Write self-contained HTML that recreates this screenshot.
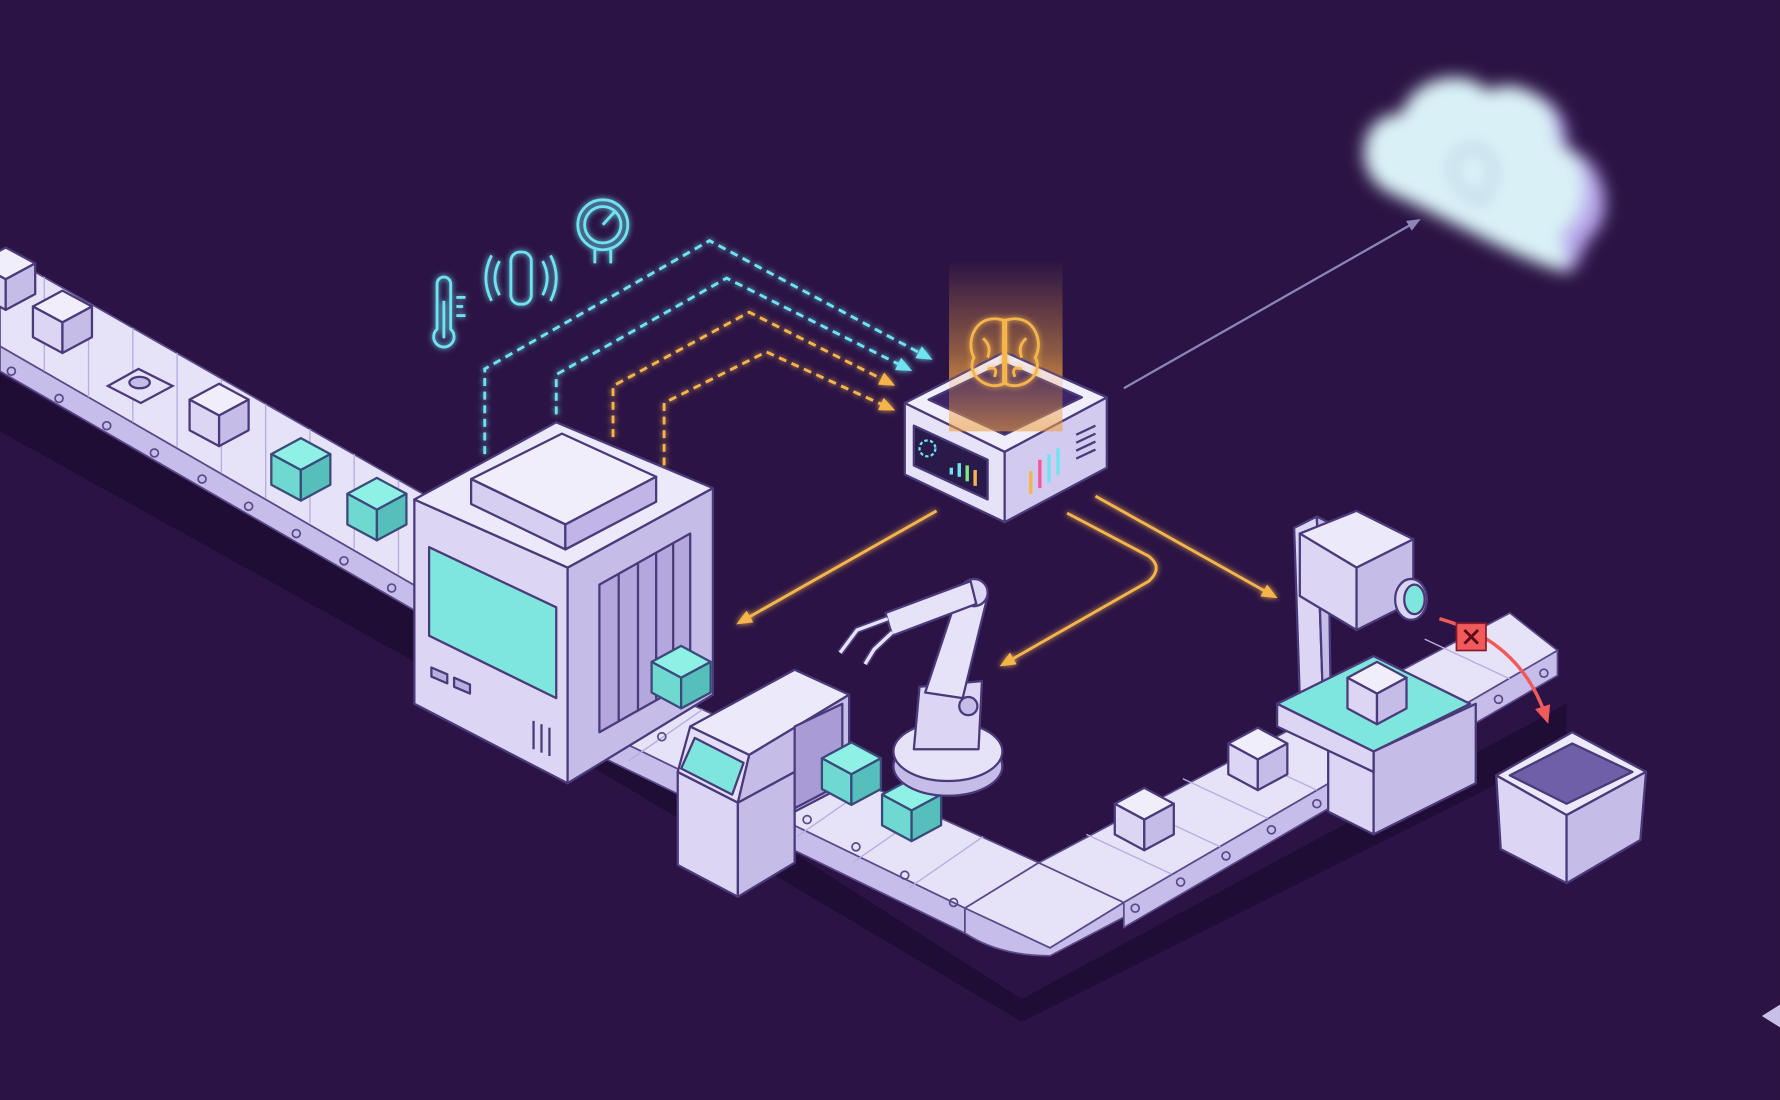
<!DOCTYPE html>
<html><head><meta charset="utf-8"><style>
html,body{margin:0;padding:0;background:#2b1445;width:1780px;height:1100px;overflow:hidden}
svg{display:block}
</style></head><body>
<svg width="1780" height="1100" viewBox="0 0 1568 969" xmlns="http://www.w3.org/2000/svg" xmlns:xlink="http://www.w3.org/1999/xlink">
<defs>
<filter id="blur" x="-20%" y="-20%" width="140%" height="140%"><feGaussianBlur stdDeviation="7"/></filter>
<filter id="glow"><feGaussianBlur stdDeviation="2.5" result="b"/><feMerge><feMergeNode in="b"/><feMergeNode in="SourceGraphic"/></feMerge></filter>
<linearGradient id="col" x1="0" y1="1" x2="0" y2="0"><stop offset="0" stop-color="#f0a040" stop-opacity=".75"/><stop offset="1" stop-color="#f0a040" stop-opacity="0"/></linearGradient>
<marker id="ao" markerUnits="userSpaceOnUse" markerWidth="14" markerHeight="12" refX="10" refY="6" orient="auto"><path d="M0,0 L14,6 L0,12 z" fill="#f6b54c"/></marker>
<marker id="ac" markerUnits="userSpaceOnUse" markerWidth="14" markerHeight="12" refX="10" refY="6" orient="auto"><path d="M0,0 L14,6 L0,12 z" fill="#6fe3f0"/></marker>
<marker id="ar" markerUnits="userSpaceOnUse" markerWidth="16" markerHeight="14" refX="10" refY="7" orient="auto"><path d="M0,0 L16,7 L0,14 z" fill="#f05a5a"/></marker>
<marker id="ag" markerUnits="userSpaceOnUse" markerWidth="12" markerHeight="10" refX="8" refY="5" orient="auto"><path d="M0,0 L12,5 L0,10 z" fill="#8a86b8"/></marker>
<g id="cl" stroke="#4a3a7a" stroke-width="2" stroke-linejoin="round">
<polygon points="-26,0 0,-14 26,0 0,14" fill="#f1eefc"/>
<polygon points="-26,0 0,14 0,41 -26,27" fill="#dcd6f4"/>
<polygon points="0,14 26,0 26,27 0,41" fill="#c6bce8"/>
</g>
<g id="ct" stroke="#3a4a7a" stroke-width="2" stroke-linejoin="round">
<polygon points="-26,0 0,-14 26,0 0,14" fill="#8ff0e6"/>
<polygon points="-26,0 0,14 0,41 -26,27" fill="#6fd8d0"/>
<polygon points="0,14 26,0 26,27 0,41" fill="#56bfbc"/>
</g>
</defs>
<rect width="1568" height="969" fill="#2b1445"/>
<path d="M0,330 L370,540 L900,880 L1380,620 L1380,660 L900,900 L360,580 L0,380 z" fill="#1f0d35"/>
<g stroke="#5a4a8a" stroke-width="1.5">
<polygon points="0,222 390,445 390,530 0,305" fill="#e6e2f7"/>
<polygon points="0,305 390,530 390,552 0,327" fill="#c7bdea"/>
<polygon points="520,580 915,760 850,800 520,640" fill="#e6e2f7"/>
<polygon points="520,640 850,800 850,822 520,662" fill="#c7bdea"/>
<polygon points="850,800 915,760 990,795 925,835" fill="#e6e2f7"/>
<path d="M850,822 Q880,842 925,842 L990,808 L990,795 L925,835 L850,800 Z" fill="#c7bdea"/>
<polygon points="915,760 1330,540 1372,573 990,795" fill="#e6e2f7"/>
<polygon points="990,795 1372,573 1372,595 990,817" fill="#c7bdea"/>
</g>
<g stroke="#b8aee0" stroke-width="1.2">
<line x1="39" y1="244" x2="39" y2="327"/><line x1="78" y1="267" x2="78" y2="350"/><line x1="117" y1="289" x2="117" y2="372"/><line x1="156" y1="311" x2="156" y2="394"/><line x1="195" y1="334" x2="195" y2="417"/><line x1="234" y1="356" x2="234" y2="439"/><line x1="273" y1="378" x2="273" y2="461"/><line x1="312" y1="400" x2="312" y2="483"/><line x1="351" y1="423" x2="351" y2="506"/>
<line x1="569" y1="602" x2="504" y2="647"/><line x1="619" y1="625" x2="554" y2="670"/><line x1="668" y1="647" x2="603" y2="692"/><line x1="718" y1="670" x2="653" y2="715"/><line x1="767" y1="692" x2="702" y2="737"/><line x1="816" y1="715" x2="751" y2="760"/><line x1="866" y1="737" x2="801" y2="782"/>
<line x1="1032" y1="770" x2="957" y2="735"/><line x1="1075" y1="746" x2="1000" y2="711"/><line x1="1117" y1="721" x2="1042" y2="686"/><line x1="1160" y1="696" x2="1085" y2="661"/><line x1="1202" y1="672" x2="1127" y2="637"/><line x1="1245" y1="647" x2="1170" y2="612"/><line x1="1287" y1="622" x2="1212" y2="587"/><line x1="1330" y1="598" x2="1255" y2="563"/>
</g>
<g fill="none" stroke="#5a4a8a" stroke-width="1.5">
<circle cx="10" cy="327" r="3.5"/><circle cx="52" cy="351" r="3.5"/><circle cx="94" cy="375" r="3.5"/><circle cx="136" cy="399" r="3.5"/><circle cx="178" cy="422" r="3.5"/><circle cx="219" cy="446" r="3.5"/><circle cx="261" cy="470" r="3.5"/><circle cx="303" cy="494" r="3.5"/><circle cx="345" cy="518" r="3.5"/>
<circle cx="540" cy="625" r="3.5"/><circle cx="583" cy="649" r="3.5"/><circle cx="626" cy="674" r="3.5"/><circle cx="669" cy="698" r="3.5"/><circle cx="711" cy="722" r="3.5"/><circle cx="754" cy="746" r="3.5"/><circle cx="797" cy="771" r="3.5"/><circle cx="840" cy="795" r="3.5"/>
<circle cx="1000" cy="800" r="3.5"/><circle cx="1040" cy="777" r="3.5"/><circle cx="1080" cy="754" r="3.5"/><circle cx="1120" cy="731" r="3.5"/><circle cx="1160" cy="708" r="3.5"/><circle cx="1200" cy="685" r="3.5"/><circle cx="1240" cy="662" r="3.5"/><circle cx="1280" cy="639" r="3.5"/><circle cx="1320" cy="616" r="3.5"/><circle cx="1360" cy="593" r="3.5"/>
</g>

<!-- cubes behind machine -->
<use xlink:href="#cl" x="5" y="232"/>
<use xlink:href="#cl" x="55" y="270"/>
<use xlink:href="#cl" x="193" y="352"/>
<use xlink:href="#ct" x="265" y="400"/>
<use xlink:href="#ct" x="332" y="435"/>
<g stroke="#4a3a7a" stroke-width="2">
<polygon points="95,340 122,325 152,340 124,355" fill="#e6e2f7"/>
<ellipse cx="123" cy="337" rx="9" ry="5" fill="#c6bce8"/>
</g>

<!-- main machine -->
<g stroke="#4a3a7a" stroke-width="2" stroke-linejoin="round">
<polygon points="365,440 500,500 500,690 365,620" fill="#dcd6f4"/>
<polygon points="500,500 628,430 628,612 500,690" fill="#c6bce8"/>
<polygon points="365,440 490,372 628,430 500,500" fill="#ece9fb"/>
<polygon points="415,422 495,382 578,420 498,462" fill="#f1eefc"/>
<polygon points="415,422 498,462 498,484 415,444" fill="#d6cff2"/>
<polygon points="498,462 578,420 578,442 498,484" fill="#c0b5e6"/>
<polygon points="378,482 490,535 490,615 378,560" fill="#7fe6de"/>
<polygon points="528,515 608,470 608,600 528,645" fill="#b3a7dd"/>
<line x1="545" y1="505" x2="545" y2="635"/><line x1="562" y1="496" x2="562" y2="625"/><line x1="578" y1="487" x2="578" y2="616"/><line x1="593" y1="479" x2="593" y2="608"/>
<polygon points="380,588 394,594 394,602 380,596" fill="#b8aee0"/>
<polygon points="400,597 414,603 414,611 400,605" fill="#b8aee0"/>
<line x1="470" y1="635" x2="470" y2="660"/><line x1="477" y1="638" x2="477" y2="663"/><line x1="484" y1="641" x2="484" y2="666"/>
</g>
<use xlink:href="#ct" x="600" y="583"/>

<!-- second small machine -->
<g stroke="#4a3a7a" stroke-width="2" stroke-linejoin="round">
<polygon points="597,680 650,707 650,790 597,762" fill="#dcd6f4"/>
<polygon points="650,707 700,680 700,760 650,790" fill="#c6bce8"/>
<polygon points="597,680 608,640 660,665 650,707" fill="#e3def8"/>
<polygon points="612,650 655,672 645,700 600,677" fill="#7fe6de"/>
<polygon points="608,640 700,590 748,612 660,665" fill="#ece9fb"/>
<polygon points="660,665 748,612 748,690 700,715 700,680 650,707" fill="#c6bce8"/>
<polygon points="700,640 742,620 742,690 700,712" fill="#a99cd6"/>
</g>
<use xlink:href="#ct" x="750" y="668"/>
<use xlink:href="#ct" x="803" y="700"/>

<!-- robot arm -->
<g stroke="#4a3a7a" stroke-width="2" stroke-linejoin="round">
<ellipse cx="835" cy="675" rx="48" ry="26" fill="#c6bce8"/>
<ellipse cx="835" cy="662" rx="48" ry="26" fill="#e6e2f7"/>
<path d="M805,660 L810,605 L865,600 L862,660 Z" fill="#dcd6f4"/>
<circle cx="853" cy="622" r="8" fill="#c6bce8"/>
<path d="M815,610 L845,520 L870,525 L848,615 Z" fill="#e6e2f7"/>
<circle cx="858" cy="522" r="12" fill="#dcd6f4"/>
<path d="M855,512 L780,540 L786,560 L860,532 Z" fill="#e6e2f7"/>
</g>
<path d="M782,545 L755,555 L740,575 M786,557 L770,572 L762,585" fill="none" stroke-width="6" stroke="#4a3a7a"/>
<path d="M782,545 L755,555 L740,575 M786,557 L770,572 L762,585" fill="none" stroke-width="3" stroke="#e6e2f7"/>

<use xlink:href="#cl" x="1008" y="708"/>
<use xlink:href="#cl" x="1108" y="655"/>

<!-- camera station -->
<g stroke="#4a3a7a" stroke-width="2" stroke-linejoin="round">
<polygon points="1140,465 1160,455 1165,605 1145,615" fill="#dcd6f4"/>
<polygon points="1160,455 1170,460 1172,600 1165,605" fill="#c6bce8"/>
<polygon points="1145,470 1195,450 1245,475 1195,500" fill="#ece9fb"/>
<polygon points="1145,470 1195,500 1195,555 1145,525" fill="#dcd6f4"/>
<polygon points="1195,500 1245,475 1245,530 1195,555" fill="#c6bce8"/>
<ellipse cx="1243" cy="528" rx="14" ry="18" fill="#dcd6f4"/>
<ellipse cx="1246" cy="528" rx="9" ry="13" fill="#7fe6de"/>
<polygon points="1125,620 1210,578 1295,620 1210,662" fill="#7fe6de"/>
<polygon points="1170,660 1210,680 1210,735 1170,715" fill="#dcd6f4"/>
<polygon points="1210,662 1300,620 1300,690 1210,735" fill="#c6bce8"/>
<polygon points="1125,620 1210,662 1210,680 1125,640" fill="#dcd6f4"/>
</g>
<use xlink:href="#cl" x="1213" y="597"/>

<!-- bin -->
<g stroke="#4a3a7a" stroke-width="2" stroke-linejoin="round">
<polygon points="1318,683 1385,645 1450,680 1380,718" fill="#ece9fb"/>
<polygon points="1330,683 1385,655 1438,680 1380,708" fill="#6e5fa8"/>
<polygon points="1318,683 1380,718 1380,778 1322,748" fill="#dcd6f4"/>
<polygon points="1380,718 1450,680 1445,740 1380,778" fill="#c6bce8"/>
</g>
<path d="M1268,545 Q1340,565 1362,632" fill="none" stroke="#f05a5a" stroke-width="3" marker-end="url(#ar)"/>
<rect x="1283" y="549" width="26" height="24" fill="#f05a5a" stroke="#8a1a2a" stroke-width="1.5"/>
<path d="M1290,555 L1302,567 M1302,555 L1290,567" stroke="#5a0a1a" stroke-width="2.5"/>

<!-- AI box -->
<rect x="836" y="230" width="100" height="120" fill="url(#col)"/>
<g stroke="#4a3a7a" stroke-width="2" stroke-linejoin="round">
<polygon points="797,355 885,398 885,460 797,418" fill="#e6e2f7"/>
<polygon points="885,398 975,350 975,412 885,460" fill="#d2caef"/>
<polygon points="797,355 885,310 975,350 885,398" fill="#f1eefc"/>
<polygon points="818,352 885,320 953,350 885,383" fill="#3c2466"/>
<polygon points="805,375 870,405 870,440 805,410" fill="#2a1a4a"/>
</g>
<rect x="836" y="310" width="100" height="70" fill="url(#col)" opacity=".8"/>
<g filter="url(#glow)" fill="none" stroke="#f6b54c" stroke-width="2.5">
<path d="M884,282 C860,275 850,300 858,315 C850,330 870,345 884,338 Z"/>
<path d="M886,282 C910,275 920,300 912,315 C920,330 900,345 886,338 Z"/>
<path d="M866,298 Q874,305 870,315 M904,298 Q896,305 900,315 M870,325 Q880,322 876,332 M900,325 Q890,322 894,332"/>
</g>
<g stroke-width="3">
<line x1="838" y1="412" x2="838" y2="418" stroke="#6fe3f0"/><line x1="845" y1="408" x2="845" y2="420" stroke="#6fe3f0"/><line x1="852" y1="410" x2="852" y2="424" stroke="#7ee87e"/><line x1="859" y1="414" x2="859" y2="428" stroke="#f6b54c"/>
<line x1="908" y1="415" x2="908" y2="435" stroke="#f6b54c"/><line x1="916" y1="405" x2="916" y2="430" stroke="#f05a9a"/><line x1="924" y1="400" x2="924" y2="425" stroke="#6fe3f0"/><line x1="932" y1="395" x2="932" y2="418" stroke="#6fe3f0"/>
</g>
<circle cx="817" cy="395" r="7" fill="none" stroke="#6fe3f0" stroke-width="2" stroke-dasharray="3 2"/>
<g stroke="#4a3a7a" stroke-width="2"><line x1="948" y1="383" x2="965" y2="375"/><line x1="948" y1="390" x2="965" y2="382"/><line x1="948" y1="397" x2="965" y2="389"/><line x1="948" y1="404" x2="965" y2="396"/></g>

<g fill="none" stroke-width="2.5" stroke-dasharray="7 5" filter="url(#glow)">
<path d="M427,400 L427,325 L625,212 L818,315" stroke="#6fe3f0" marker-end="url(#ac)"/>
<path d="M490,365 L490,330 L640,245 L800,325" stroke="#6fe3f0" marker-end="url(#ac)"/>
<path d="M540,385 L540,340 L660,275 L785,338" stroke="#f6b54c" marker-end="url(#ao)"/>
<path d="M585,410 L585,355 L675,310 L785,360" stroke="#f6b54c" marker-end="url(#ao)"/>
</g>
<g fill="none" stroke="#f6b54c" stroke-width="2.5" filter="url(#glow)">
<path d="M825,450 L652,548" marker-end="url(#ao)"/>
<path d="M940,452 L1012,490 Q1025,500 1012,512 L884,585" marker-end="url(#ao)"/>
<path d="M965,437 L1122,525" marker-end="url(#ao)"/>
</g>
<path d="M990,342 L1248,195" stroke="#8a86b8" stroke-width="2" fill="none" marker-end="url(#ag)"/>

<g fill="none" stroke="#6fe3f0" stroke-width="2.5" filter="url(#glow)">
<path d="M385,250 L385,290 A9,9 0 1 0 397,290 L397,250 A6,6 0 0 0 385,250 Z"/>
<line x1="391" y1="265" x2="391" y2="298"/>
<line x1="402" y1="262" x2="410" y2="262"/><line x1="402" y1="270" x2="408" y2="270"/><line x1="402" y1="278" x2="410" y2="278"/>
<rect x="450" y="222" width="18" height="46" rx="8"/>
<path d="M440,230 Q432,245 440,260 M478,230 Q486,245 478,260 M433,225 Q423,245 433,265 M485,225 Q495,245 485,265"/>
<circle cx="531" cy="198" r="22"/><circle cx="531" cy="198" r="16"/>
<line x1="531" y1="198" x2="542" y2="186"/>
<line x1="524" y1="220" x2="524" y2="232"/><line x1="538" y1="220" x2="538" y2="232"/>
</g>

<g filter="url(#blur)">
<path d="M1235,175 C1195,160 1200,105 1240,105 C1250,70 1300,65 1315,85 C1345,70 1385,90 1380,130 C1415,140 1425,190 1400,210 L1385,240 L1250,175 Z" fill="#b9a8ec"/>
<path d="M1225,170 C1190,155 1195,100 1235,100 C1245,65 1295,60 1310,80 C1340,65 1375,90 1370,125 C1400,135 1405,185 1375,205 L1380,240 C1340,230 1290,200 1225,170 Z" fill="#d9f1f6"/>
<path d="M1300,130 C1280,130 1270,150 1290,170 L1305,178 C1320,160 1320,135 1300,130 Z" fill="none" stroke="#a9b8d8" stroke-width="4"/>
</g>
<path d="M1552,895 L1568,885 L1568,905 Z" fill="#c8c0e8"/>
</svg>
</body></html>
